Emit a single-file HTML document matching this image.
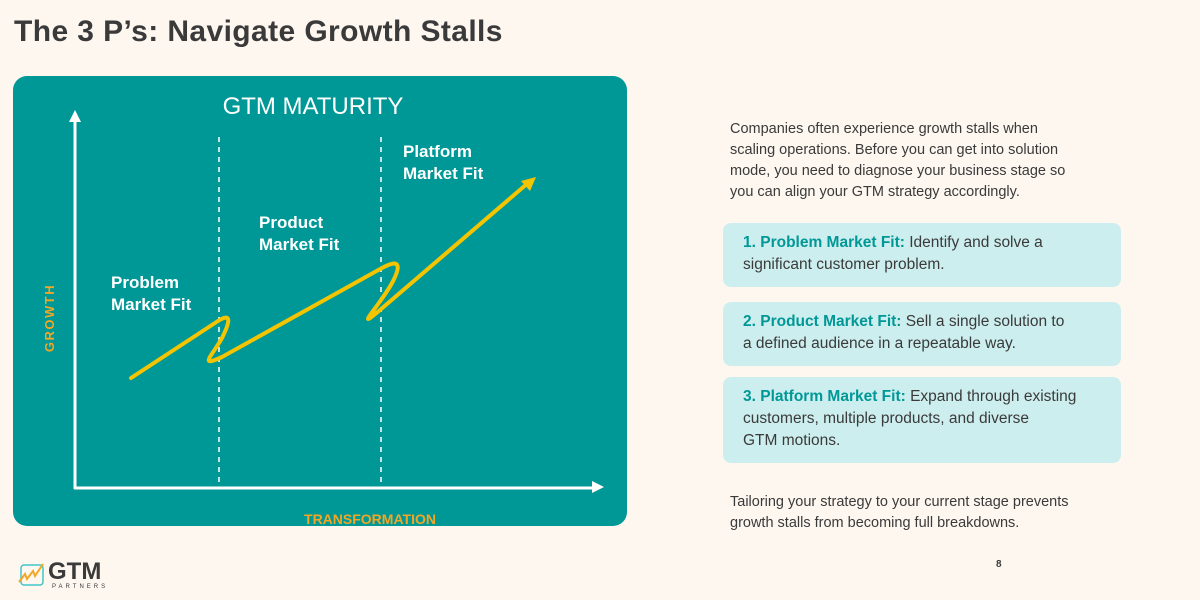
<!DOCTYPE html>
<html><head><meta charset="utf-8"><style>
body{margin:0;width:1200px;height:600px;background:#fef7f0;font-family:"Liberation Sans",sans-serif;position:relative;overflow:hidden;color:#3a3a3a}
.abs{position:absolute}
h1{position:absolute;left:14px;top:15px;margin:0;font-size:30px;letter-spacing:0.4px;font-weight:bold;color:#3a3a3a}
.panel{left:13px;top:76px;width:614px;height:450px;background:#009896;border-radius:14px}
.card{left:723px;width:398px;background:#cdeeee;border-radius:8px;font-size:15.5px;line-height:22px;padding:9px 0 0 20px;box-sizing:border-box}
.card b{color:#009896}
.p{font-size:14.5px;line-height:21px;color:#3a3a3a;white-space:nowrap}
</style></head><body>
<h1>The 3 P’s: Navigate Growth Stalls</h1>
<div class="abs panel"></div>
<svg class="abs" style="left:0;top:0" width="640" height="600">
<text x="313" y="114" text-anchor="middle" fill="#fff" font-size="24" font-family="Liberation Sans">GTM MATURITY</text>
<g stroke="#fff" stroke-width="3" fill="none">
<line x1="75" y1="489" x2="75" y2="118"/><line x1="74" y1="488" x2="598" y2="488"/>
</g>
<polygon points="75,110 69,122 81,122" fill="#fff"/>
<polygon points="604,487 592,481 592,493" fill="#fff"/>
<g stroke="#fff" stroke-width="1.5" stroke-dasharray="5,5">
<line x1="219" y1="137" x2="219" y2="484"/><line x1="381" y1="137" x2="381" y2="484"/>
</g>
<g fill="#fff" font-size="17" font-weight="bold" font-family="Liberation Sans">
<text x="111" y="288"><tspan x="111">Problem</tspan><tspan x="111" dy="22">Market Fit</tspan></text>
<text x="259" y="228"><tspan x="259">Product</tspan><tspan x="259" dy="22">Market Fit</tspan></text>
<text x="403" y="157"><tspan x="403">Platform</tspan><tspan x="403" dy="22">Market Fit</tspan></text>
</g>
<path d="M131,378 L218,321 C232,312 230,322 222,338 C212,356 198,368 222,357 L382,268 C402,257 400,268 392,283 C380,305 352,334 380,310 L528,183" stroke="#f5c400" stroke-width="4" fill="none" stroke-linecap="round"/>
<polygon points="536,177 521,181 530,191" fill="#f5c400"/>
<text x="54" y="318" fill="#f3a623" font-size="13" font-weight="bold" font-family="Liberation Sans" letter-spacing="1.5" text-anchor="middle" transform="rotate(-90 54 318)">GROWTH</text>
<text x="370" y="524" fill="#f3a623" font-size="14" font-weight="bold" font-family="Liberation Sans" text-anchor="middle">TRANSFORMATION</text>
</svg>
<div class="abs p" style="left:730px;top:119px">Companies often experience growth stalls when<br>scaling operations. Before you can get into solution<br>mode, you need to diagnose your business stage so<br>you can align your GTM strategy accordingly.</div>
<div class="abs card" style="top:223px;height:64px"><b>1. Problem Market Fit:</b> Identify and solve a<br>significant customer problem.</div>
<div class="abs card" style="top:302px;height:64px"><b>2. Product Market Fit:</b> Sell a single solution to<br>a defined audience in a repeatable way.</div>
<div class="abs card" style="top:377px;height:86px"><b>3. Platform Market Fit:</b> Expand through existing<br>customers, multiple products, and diverse<br>GTM motions.</div>
<div class="abs p" style="left:730px;top:492px">Tailoring your strategy to your current stage prevents<br>growth stalls from becoming full breakdowns.</div>
<div class="abs" style="left:996px;top:559px;font-size:10px;font-weight:bold">8</div>
<div class="abs" style="left:18px;top:560px">
<svg width="30" height="26"><rect x="3" y="5" width="22" height="20" rx="3" fill="none" stroke="#3fc7c7" stroke-width="1.5"/><path d="M1,22 L7,14 L9,19 L15,11 L17,16 L25,4" stroke="#f3a623" stroke-width="2" fill="none"/></svg>
<span class="abs" style="left:30px;top:-2px;font-size:24px;font-weight:bold;color:#3a3a3a">GTM</span>
<span class="abs" style="left:34px;top:24px;font-size:6px;letter-spacing:3px;color:#3a3a3a">PARTNERS</span>
</div>
</body></html>
